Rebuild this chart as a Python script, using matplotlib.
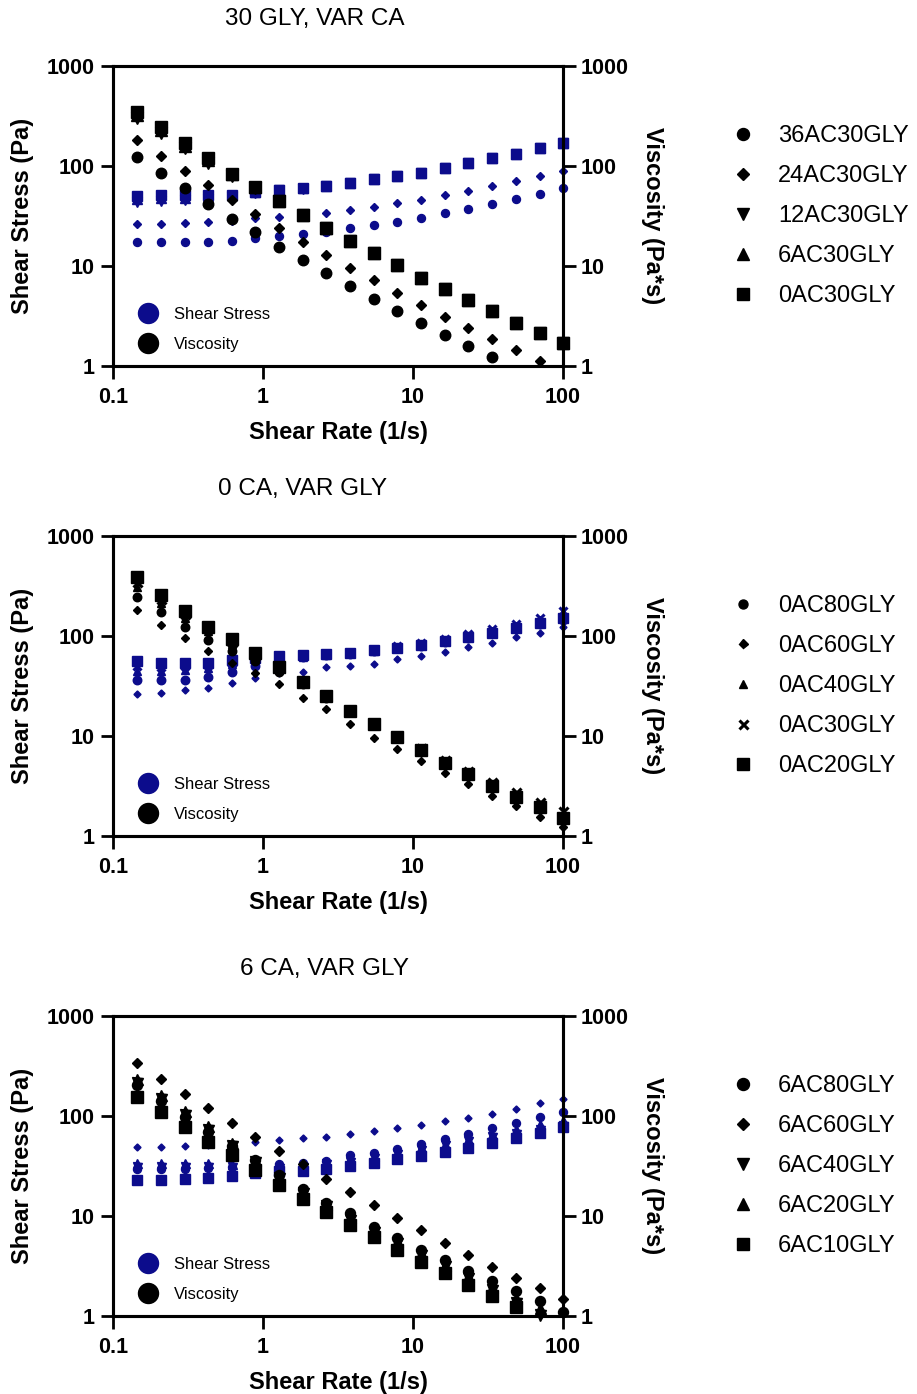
import numpy as np
import matplotlib
matplotlib.use("Agg")
import matplotlib.pyplot as plt
from matplotlib.lines import Line2D
from matplotlib.ticker import NullLocator

plt.rcParams['font.family'] = ['Liberation Sans', 'DejaVu Sans']

nan = np.nan
BLUE = '#0c0c8c'

# shear rate sweep (1/s), same for every sample
shear_rate = [0.145, 0.208, 0.30, 0.43, 0.62, 0.89, 1.28, 1.84, 2.64, 3.80,
              5.47, 7.86, 11.3, 16.3, 23.4, 33.8, 48.6, 70.0, 100.0]

# --- 30 GLY, VAR CA ---
ac36_gly30_stress = [17.5, 17.5, 17.5, 17.5, 17.9, 18.9, 20.0, 21.1, 22.0, 23.8,
                     25.7, 27.8, 30.0, 33.6, 36.9, 41.7, 46.4, 52.5, 59.8]
ac36_gly30_visc = [122, 85.8, 59.8, 41.4, 29.3, 21.9, 15.6, 11.4, 8.51, 6.26,
                   4.71, 3.52, 2.67, 2.04, 1.60, 1.23, nan, nan, nan]
ac24_gly30_stress = [26.1, 26.1, 26.7, 27.5, 28.4, 30.0, 31.2, 32.4, 34.1, 36.3,
                     39.2, 42.7, 46.0, 50.9, 56.2, 63.1, 70.8, 79.4, 89.8]
ac24_gly30_visc = [182, 126, 89.1, 64.6, 45.7, 33.1, 24.2, 17.5, 13.0, 9.62,
                   7.24, 5.41, 4.10, 3.11, 2.42, 1.88, 1.45, 1.13, nan]
ac12_gly30_stress = [44.0, 44.5, 45.5, 46.5, 49.0, 53.5, 57.0, 59.5, 63.0, 68.0,
                     73.5, 80.0, 85.8, 96.3, 106, 120, 132, 150, 171]
ac12_gly30_visc = [303, 214, 152, 108, 79.0, 60.1, 44.5, 32.3, 23.9, 17.9,
                   13.4, 10.2, 7.59, 5.91, 4.53, 3.55, 2.72, 2.14, 1.71]
ac6_gly30_stress = [47.0, 47.5, 48.0, 49.0, 51.5, 54.5, 57.2, 59.6, 63.0, 68.0,
                    73.5, 80.0, 85.8, 96.3, 106, 120, 132, 150, 171]
ac6_gly30_visc = [324, 228, 160, 114, 83.1, 61.2, 44.7, 32.4, 23.9, 17.9,
                  13.4, 10.2, 7.59, 5.91, 4.53, 3.55, 2.72, 2.14, 1.71]
ac0_gly30_stress = [50.6, 50.7, 50.7, 51.2, 51.6, 55.4, 57.5, 59.8, 63.5, 68.1,
                    73.6, 80.1, 85.8, 96.3, 106, 120, 132, 150, 171]
ac0_gly30_visc = [349, 244, 169, 119, 83.2, 62.2, 44.9, 32.5, 24.1, 17.9,
                  13.5, 10.2, 7.59, 5.91, 4.53, 3.55, 2.72, 2.14, 1.71]

# --- 0 CA, VAR GLY ---
ac0_gly80_stress = [36.0, 36.0, 36.5, 39.0, 44.0, 50.0, 56.0, 61.0, 64.0, 66.0,
                    70.0, 75.0, 80.0, 87.0, 96.0, 106, 118, 132, 146]
ac0_gly80_visc = [248, 173, 122, 90.7, 71.0, 56.2, 43.8, 33.2, 24.2, 17.4,
                  12.8, 9.54, 7.08, 5.34, 4.10, 3.14, 2.43, 1.89, 1.46]
ac0_gly60_stress = [26.3, 26.9, 28.6, 30.4, 33.6, 37.8, 42.3, 44.0, 49.4, 50.5,
                    52.5, 58.5, 63.6, 69.7, 77.1, 85.8, 97.0, 108, 122]
ac0_gly60_visc = [181, 129, 95.3, 70.7, 54.2, 42.5, 33.0, 23.9, 18.7, 13.3,
                  9.60, 7.44, 5.63, 4.28, 3.29, 2.54, 2.00, 1.54, 1.22]
ac0_gly40_stress = [45, 45, 46, 48, 52, 56, 60, 62, 65, 67,
                    71, 76, 82, 89, 98, 108, 121, 136, 152]
ac0_gly40_visc = [310, 216, 153, 112, 83.9, 62.9, 46.9, 33.7, 24.6, 17.6,
                  13.0, 9.67, 7.26, 5.46, 4.19, 3.20, 2.49, 1.94, 1.52]
ac0_gly30b_stress = [50, 49, 50, 51, 54, 58, 62, 64, 66.5, 68,
                     73, 79, 86, 94, 105, 118, 133, 152, 178]
ac0_gly30b_visc = [345, 236, 167, 119, 87.1, 65.2, 48.4, 34.8, 25.2, 17.9,
                   13.3, 10.1, 7.61, 5.77, 4.49, 3.49, 2.74, 2.17, 1.78]
ac0_gly20_stress = [56.8, 53.5, 53.4, 53.3, 57.4, 59.7, 63.2, 64.2, 66.3, 67.3,
                    71.7, 76.2, 81.8, 88.2, 97.6, 108, 120, 135, 150]
ac0_gly20_visc = [392, 257, 178, 124, 92.6, 67.1, 49.4, 34.9, 25.1, 17.7,
                  13.1, 9.70, 7.24, 5.41, 4.17, 3.19, 2.47, 1.93, 1.50]

# --- 6 CA, VAR GLY ---
ac6_gly80_stress = [29.7, 29.5, 29.5, 30.0, 31.0, 32.0, 33.0, 34.0, 35.8, 40.4,
                    42.3, 47.1, 52.1, 58.5, 65.6, 75.3, 85.8, 98.5, 110]
ac6_gly80_visc = [205, 142, 98.3, 69.8, 50.0, 36.0, 25.8, 18.5, 13.6, 10.6,
                  7.73, 5.99, 4.61, 3.59, 2.80, 2.23, 1.77, 1.41, 1.10]
ac6_gly60_stress = [48.7, 48.5, 49.8, 51.2, 53.2, 55.3, 57.6, 60.9, 61.8, 66.5,
                    70.6, 75.6, 81.8, 88.2, 95.0, 105, 118, 134, 147]
ac6_gly60_visc = [336, 233, 166, 119, 85.8, 62.1, 45.0, 33.1, 23.4, 17.5,
                  12.9, 9.62, 7.24, 5.41, 4.07, 3.11, 2.42, 1.92, 1.47]
ac6_gly40_stress = [31, 31, 31, 31, 31, 30.5, 30.5, 31, 33, 35,
                    38, 42, 46, 51, 56, 61, 66, 72, 80]
ac6_gly40_visc = [214, 149, 103, 72.1, 50.0, 34.3, 23.8, 16.8, 12.5, 9.21,
                  6.95, 5.34, 4.07, 3.13, 2.39, 1.80, 1.36, 1.03, nan]
ac6_gly20_stress = [34, 34, 34, 34, 33, 32.5, 32, 33, 35, 37,
                    40, 44, 48.5, 53, 59, 66, 74, 83, 92]
ac6_gly20_visc = [234, 163, 113, 79.1, 53.2, 36.5, 25.0, 17.9, 13.3, 9.74,
                  7.31, 5.60, 4.29, 3.25, 2.52, 1.95, 1.52, 1.19, nan]
ac6_gly10_stress = [22.9, 22.9, 23.3, 24.2, 25.1, 26.7, 28.2, 28.4, 29.3, 31.6,
                    33.6, 36.9, 39.8, 44.0, 48.2, 54.1, 59.8, 68.1, 77.1]
ac6_gly10_visc = [156, 110, 78.2, 55.4, 40.7, 28.8, 20.4, 14.8, 11.0, 8.13,
                  6.12, 4.57, 3.49, 2.67, 2.04, 1.58, 1.24, nan, nan]

W, H = 917, 1394
PT = 72 / 100  # points per pixel at dpi 100


def ms(marker, px):
    # diamonds are sized by their diagonal
    return px * PT / np.sqrt(2) if marker == 'D' else px * PT


def draw_panel(fig, top, title, title_x, series):
    ax = fig.add_axes([113 / W, 1 - (top + 300) / H, 450 / W, 300 / H])
    ax2 = ax.twinx()
    for a in (ax, ax2):
        a.set_xscale('log')
        a.set_yscale('log')
        a.set_xlim(0.1, 100)
        a.set_ylim(1, 1000)
        a.xaxis.set_minor_locator(NullLocator())
        a.yaxis.set_minor_locator(NullLocator())
        for sp in a.spines.values():
            sp.set_linewidth(2.2)

    for name, stress, visc, mk, blue_px, black_px, leg_px in series:
        kw = dict(ls='none', marker=mk, clip_on=False)
        if mk == 'x':
            kw['markeredgewidth'] = 2.2
        ax.plot(shear_rate, stress, color=BLUE, markersize=ms(mk, blue_px), **kw)
        ax2.plot(shear_rate, visc, color='black', markersize=ms(mk, black_px), **kw)

    ax.set_xticks([0.1, 1, 10, 100], ['0.1', '1', '10', '100'], fontweight='bold')
    ax.set_yticks([1, 10, 100, 1000], ['1', '10', '100', '1000'], fontweight='bold')
    ax2.set_yticks([1, 10, 100, 1000], ['1', '10', '100', '1000'], fontweight='bold')
    ax.tick_params(axis='x', length=9, width=2.0, labelsize=15.5, pad=6)
    ax.tick_params(axis='y', length=9, width=2.0, labelsize=15.5, pad=4)
    ax2.tick_params(axis='y', length=9, width=2.0, labelsize=15.5, pad=4)

    ax.set_xlabel('Shear Rate (1/s)', fontsize=17, fontweight='bold')
    ax.xaxis.set_label_coords(0.5, -0.183)
    ax.set_ylabel('Shear Stress (Pa)', fontsize=17, fontweight='bold')
    ax.yaxis.set_label_coords(-0.175, 0.5)
    ax2.set_ylabel('Viscosity (Pa*s)', fontsize=17, fontweight='bold',
                   rotation=270, va='bottom')
    ax2.yaxis.set_label_coords(1.173, 0.5)

    fig.text(title_x / W, 1 - (top - 47) / H, title, ha='center', va='center',
             fontsize=17.5)

    # sample legend to the right of the plot
    handles = []
    for name, stress, visc, mk, blue_px, black_px, leg_px in series:
        h = Line2D([], [], ls='none', marker=mk, color='black',
                   markersize=ms(mk, leg_px))
        if mk == 'x':
            h.set_markeredgewidth(2.2)
        handles.append(h)
    ax.legend(handles, [s[0] for s in series], loc='center left',
              bbox_to_anchor=(1.374, 0.5), frameon=False, fontsize=17,
              borderpad=0, borderaxespad=0, handlelength=1.0,
              handletextpad=0.98, labelspacing=0.76)

    # quantity legend inside the plot
    key = [Line2D([], [], ls='none', marker='o', color=BLUE, markersize=20 * PT),
           Line2D([], [], ls='none', marker='o', color='black', markersize=20 * PT)]
    ax2.legend(key, ['Shear Stress', 'Viscosity'], loc='lower left',
               bbox_to_anchor=(0.048, 0.046), frameon=False, fontsize=12,
               borderpad=0, borderaxespad=0, handlelength=1.6,
               handletextpad=0.75, labelspacing=0.94)
    return ax, ax2


fig = plt.figure(figsize=(W / 100, H / 100), dpi=100)

draw_panel(fig, 66, '30 GLY, VAR CA', 315, [
    ('36AC30GLY', ac36_gly30_stress, ac36_gly30_visc, 'o', 8, 10.5, 12),
    ('24AC30GLY', ac24_gly30_stress, ac24_gly30_visc, 'D', 7.5, 10.5, 12),
    ('12AC30GLY', ac12_gly30_stress, ac12_gly30_visc, 'v', 9.5, 12, 12),
    ('6AC30GLY', ac6_gly30_stress, ac6_gly30_visc, '^', 9.5, 12, 12),
    ('0AC30GLY', ac0_gly30_stress, ac0_gly30_visc, 's', 9.5, 12, 12),
])

draw_panel(fig, 536, '0 CA, VAR GLY', 303, [
    ('0AC80GLY', ac0_gly80_stress, ac0_gly80_visc, 'o', 8.5, 8.5, 9),
    ('0AC60GLY', ac0_gly60_stress, ac0_gly60_visc, 'D', 7, 7.5, 9),
    ('0AC40GLY', ac0_gly40_stress, ac0_gly40_visc, '^', 8, 8.5, 8.5),
    ('0AC30GLY', ac0_gly30b_stress, ac0_gly30b_visc, 'x', 8, 9, 9),
    ('0AC20GLY', ac0_gly20_stress, ac0_gly20_visc, 's', 10, 12, 12),
])

draw_panel(fig, 1016, '6 CA, VAR GLY', 324, [
    ('6AC80GLY', ac6_gly80_stress, ac6_gly80_visc, 'o', 8, 10, 12),
    ('6AC60GLY', ac6_gly60_stress, ac6_gly60_visc, 'D', 7, 10.5, 12),
    ('6AC40GLY', ac6_gly40_stress, ac6_gly40_visc, 'v', 9, 11, 12),
    ('6AC20GLY', ac6_gly20_stress, ac6_gly20_visc, '^', 9, 11, 12),
    ('6AC10GLY', ac6_gly10_stress, ac6_gly10_visc, 's', 10, 12, 12),
])

fig.savefig('out.png', dpi=100)
